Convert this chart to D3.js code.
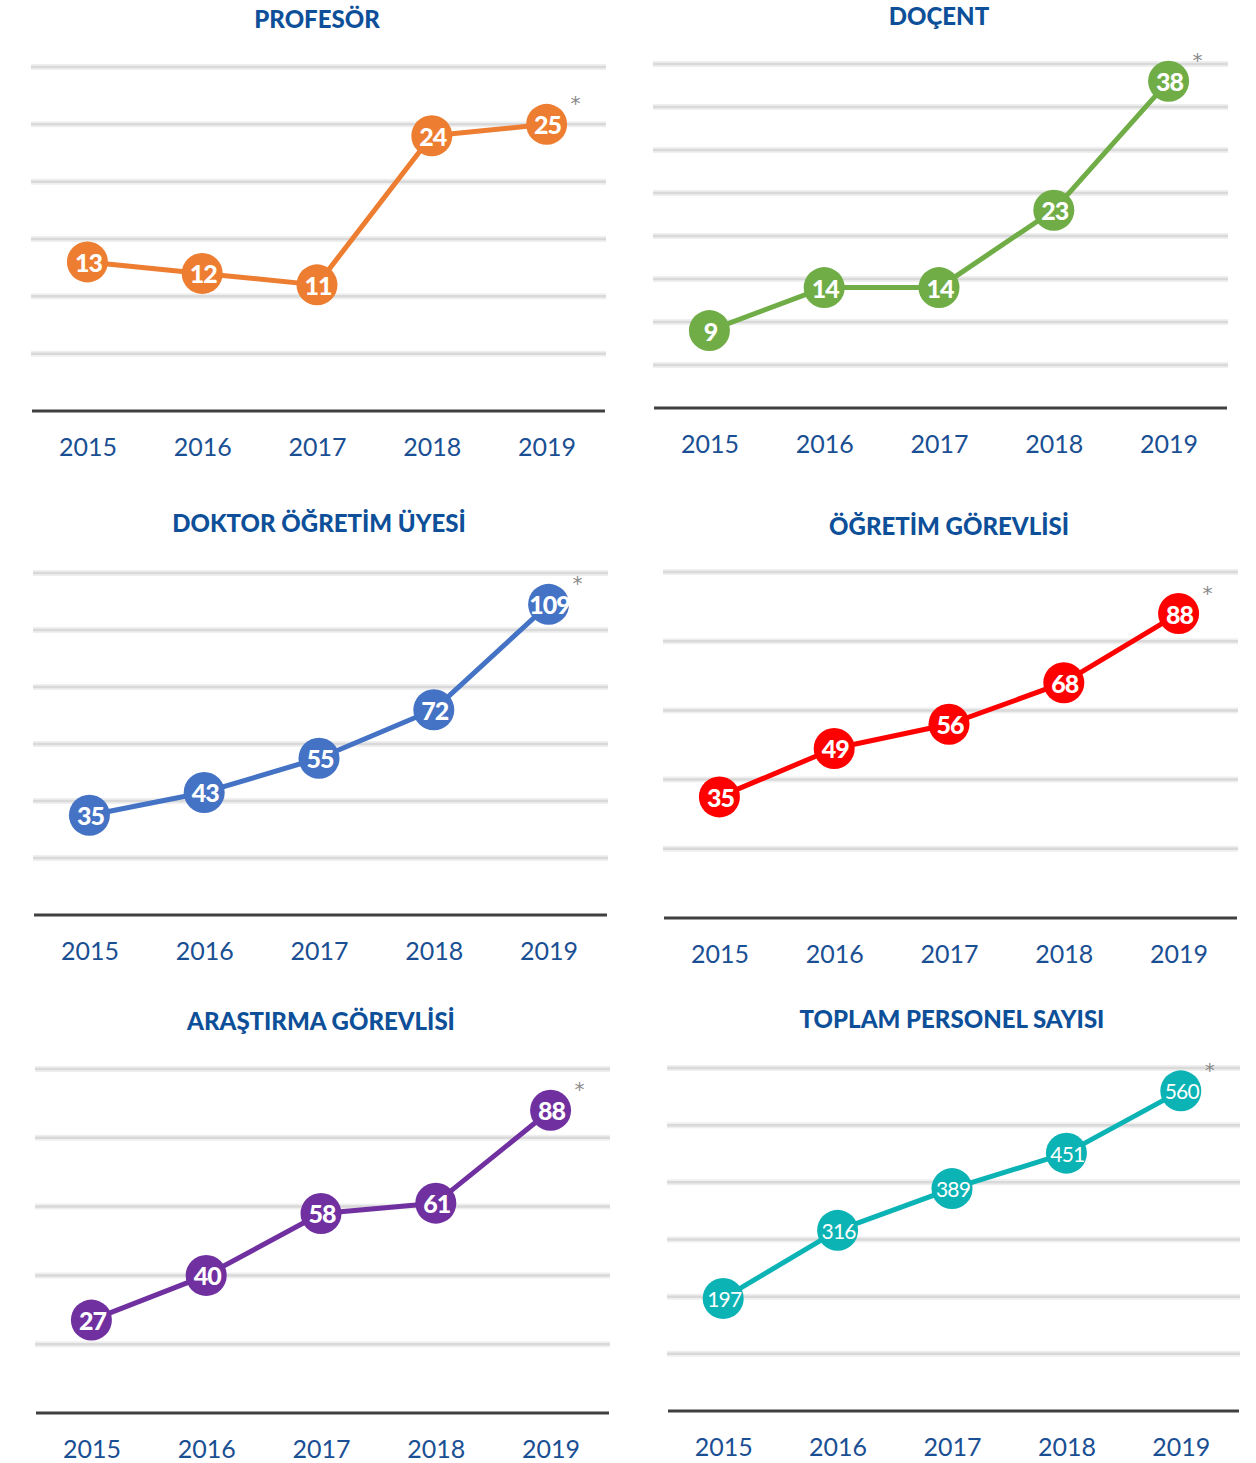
<!DOCTYPE html>
<html>
<head>
<meta charset="utf-8">
<script src="https://cdn.jsdelivr.net/npm/d3@7"></script>
<style>
  html, body { margin: 0; padding: 0; background: #fff; }
  svg { display: block; }
</style>
</head>
<body>
<div id="chart"></div>
<script>
// values
const years = ["2015", "2016", "2017", "2018", "2019"];
const profesor = [13, 12, 11, 24, 25];
const docent = [9, 14, 14, 23, 38];
const doktorOgretimUyesi = [35, 43, 55, 72, 109];
const ogretimGorevlisi = [35, 49, 56, 68, 88];
const arastirmaGorevlisi = [27, 40, 58, 61, 88];
const toplamPersonel = [197, 316, 389, 451, 560];
const titles = [
  "PROFESÖR",
  "DOÇENT",
  "DOKTOR ÖĞRETİM ÜYESİ",
  "ÖĞRETİM GÖREVLİSİ",
  "ARAŞTIRMA GÖREVLİSİ",
  "TOPLAM PERSONEL SAYISI",
];

const width = 1256;
const height = 1463;
const titleColor = "#0d4f98";
const yearColor = "#1a4f93";
const fontFamily = "Lato, 'Open Sans', sans-serif";

// panel layout: plot left/right edge, top gridline y (= max), baseline y (= 0)
const panels = [
  { title: titles[0], values: profesor, color: "#ED7D31", max: 30, step: 5, left: 30, right: 604, top: 67, base: 411 },
  { title: titles[1], values: docent, color: "#70AD47", max: 40, step: 5, left: 652, right: 1226, top: 64, base: 408 },
  { title: titles[2], values: doktorOgretimUyesi, color: "#4472C4", max: 120, step: 20, left: 32, right: 606, top: 573, base: 915 },
  { title: titles[3], values: ogretimGorevlisi, color: "#FF0000", max: 100, step: 20, left: 662, right: 1236, top: 572, base: 918 },
  { title: titles[4], values: arastirmaGorevlisi, color: "#7030A0", max: 100, step: 20, left: 34, right: 608, top: 1069, base: 1413 },
  { title: titles[5], values: toplamPersonel, color: "#0BB3B5", max: 600, step: 100, left: 666, right: 1238, top: 1068, base: 1411, light: true },
];

const svg = d3
  .select("#chart")
  .append("svg")
  .attr("width", width)
  .attr("height", height)
  .attr("viewBox", [0, 0, width, height]);

panels.forEach((p) => {
  const x = d3.scalePoint().domain(years).range([p.left, p.right]).padding(0.5);
  const y = d3.scaleLinear().domain([0, p.max]).range([p.base, p.top]);
  const g = svg.append("g");

  // title
  g.append("text")
    .attr("x", (p.left + p.right) / 2)
    .attr("y", p.base - 391)
    .attr("dy", "0.35em")
    .attr("text-anchor", "middle")
    .attr("font-family", fontFamily)
    .attr("font-weight", 900)
    .attr("font-size", 24)
    .attr("fill", titleColor)
    .text(p.title);

  // gridlines: soft grey bands (a wide pale halo + a darker core)
  const gridTicks = d3.range(p.step, p.max + p.step / 2, p.step);
  const grid = g.append("g");
  grid
    .selectAll("line.halo")
    .data(gridTicks)
    .join("line")
    .attr("class", "halo")
    .attr("x1", p.left + 1)
    .attr("x2", p.right + 2)
    .attr("y1", (d) => y(d))
    .attr("y2", (d) => y(d))
    .attr("stroke", "#efefef")
    .attr("stroke-width", 6);
  grid
    .selectAll("line.core")
    .data(gridTicks)
    .join("line")
    .attr("class", "core")
    .attr("x1", p.left + 1)
    .attr("x2", p.right + 2)
    .attr("y1", (d) => y(d))
    .attr("y2", (d) => y(d))
    .attr("stroke", "#d9d9d9")
    .attr("stroke-width", 2.5);

  // x axis: baseline + year labels
  const axis = g
    .append("g")
    .attr("transform", `translate(0,${p.base})`)
    .call(d3.axisBottom(x).tickSize(0).tickPadding(27));
  axis.select(".domain").remove();
  axis
    .selectAll("text")
    .attr("font-family", fontFamily)
    .attr("font-size", 25)
    .attr("fill", yearColor);

  g.append("line")
    .attr("x1", p.left + 2)
    .attr("x2", p.right + 1)
    .attr("y1", p.base)
    .attr("y2", p.base)
    .attr("stroke", "#404040")
    .attr("stroke-width", 3);

  // series line
  const pts = years.map((yr, i) => ({ year: yr, value: p.values[i] }));
  const line = d3
    .line()
    .x((d) => x(d.year))
    .y((d) => y(d.value));

  g.append("path")
    .datum(pts)
    .attr("fill", "none")
    .attr("stroke", p.color)
    .attr("stroke-width", 5)
    .attr("stroke-linejoin", "round")
    .attr("d", line);

  // markers
  g.append("g")
    .selectAll("circle")
    .data(pts)
    .join("circle")
    .attr("cx", (d) => x(d.year))
    .attr("cy", (d) => y(d.value))
    .attr("r", 20.5)
    .attr("fill", p.color);

  // value labels
  g.append("g")
    .selectAll("text")
    .data(pts)
    .join("text")
    .attr("x", (d) => x(d.year) + 1)
    .attr("y", (d) => y(d.value) + 1)
    .attr("dy", "0.36em")
    .attr("text-anchor", "middle")
    .attr("font-family", fontFamily)
    .attr("font-weight", p.light ? "normal" : 900)
    .attr("font-size", p.light ? 21 : 25)
    .attr("letter-spacing", p.light ? -0.8 : -1)
    .attr("fill", "#fff")
    .text((d) => d.value);

  // asterisk next to the last point
  const last = pts[pts.length - 1];
  g.append("text")
    .attr("x", x(last.year) + 29)
    .attr("y", y(last.value) - 14)
    .attr("text-anchor", "middle")
    .attr("font-family", "'DejaVu Sans', sans-serif")
    .attr("font-size", 20)
    .attr("fill", "#8a8a8a")
    .text("*");
});
</script>
</body>
</html>
